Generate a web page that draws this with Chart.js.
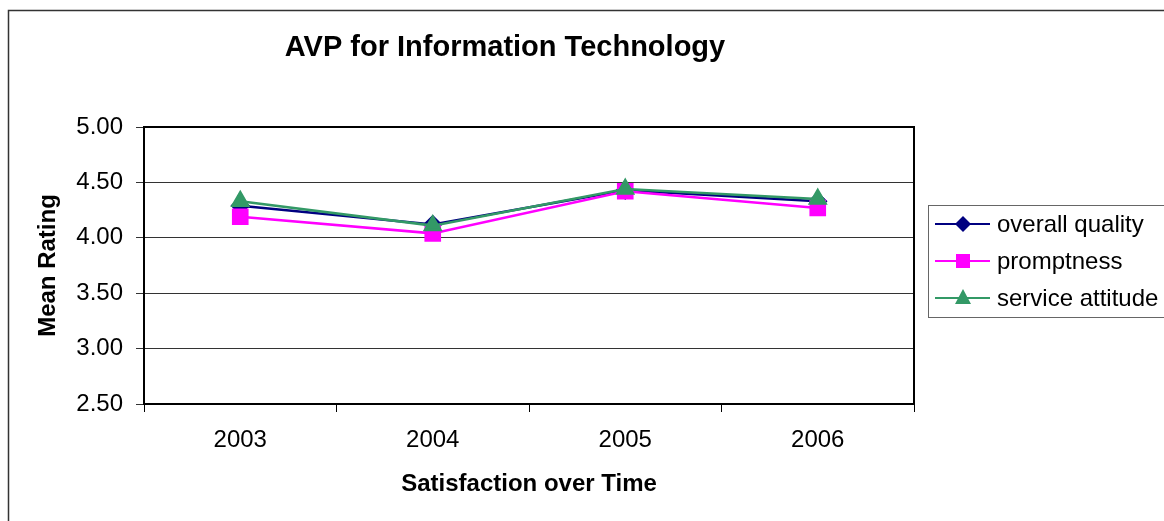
<!DOCTYPE html>
<html>
<head>
<meta charset="utf-8">
<script src="https://cdn.jsdelivr.net/npm/chart.js@4/dist/chart.umd.min.js"></script>
<style>
  html, body { margin: 0; padding: 0; background: #fff; }
  #wrap { width: 1164px; height: 521px; position: relative; }
</style>
</head>
<body>
<div id="wrap"><canvas id="chart" width="1164" height="521"></canvas></div>
<script>
const chartTitle = 'AVP for Information Technology';
const years = ['2003', '2004', '2005', '2006'];
const overallQuality = [4.29, 4.12, 4.43, 4.33];
const promptness = [4.19, 4.04, 4.42, 4.27];
const serviceAttitude = [4.33, 4.11, 4.44, 4.35];
const yTicks = [2.5, 3.0, 3.5, 4.0, 4.5, 5.0];

const FONT = 'Liberation Sans, Arial, sans-serif';

// outer frame, title and plot border
const framePlugin = {
    id: 'frame',
    beforeDraw(chart) {
        const c = chart.ctx;
        c.save();
        c.fillStyle = '#fff';
        c.fillRect(0, 0, chart.width, chart.height);
        c.strokeStyle = '#333';
        c.lineWidth = 1.5;
        c.strokeRect(8.5, 10.5, 1400, 700);
        c.fillStyle = '#000';
        c.font = 'bold 29px ' + FONT;
        c.textAlign = 'center';
        c.textBaseline = 'middle';
        c.fillText(chartTitle, 505, 48);
        c.restore();
    },
    afterDatasetsDraw(chart) {
        const a = chart.chartArea;
        const c = chart.ctx;
        c.save();
        c.strokeStyle = '#000';
        c.lineWidth = 2;
        c.strokeRect(a.left, a.top, a.right - a.left, a.bottom - a.top);
        c.restore();
    }
};

// excel style legend: line + marker, boxed
const legendPlugin = {
    id: 'boxLegend',
    afterDraw(chart) {
        const c = chart.ctx;
        const x0 = 928, y0 = 205, w = 260, h = 112;
        c.save();
        c.strokeStyle = '#666';
        c.lineWidth = 1;
        c.strokeRect(x0 + 0.5, y0 + 0.5, w, h);
        c.font = '24px ' + FONT;
        c.textBaseline = 'middle';
        chart.data.datasets.forEach((ds, i) => {
            const y = y0 + 19 + i * 37;
            c.strokeStyle = ds.borderColor;
            c.lineWidth = 2;
            c.beginPath();
            c.moveTo(x0 + 7, y);
            c.lineTo(x0 + 62, y);
            c.stroke();
            c.fillStyle = ds.backgroundColor;
            const cx = x0 + 35;
            c.beginPath();
            if (ds.pointStyle === 'rectRot') {
                c.moveTo(cx, y - 8); c.lineTo(cx + 8, y); c.lineTo(cx, y + 8); c.lineTo(cx - 8, y);
            } else if (ds.pointStyle === 'rect') {
                c.rect(cx - 7, y - 7, 14, 14);
            } else {
                c.moveTo(cx, y - 9); c.lineTo(cx + 8, y + 6); c.lineTo(cx - 8, y + 6);
            }
            c.closePath();
            c.fill();
            c.fillStyle = '#000';
            c.fillText(ds.label, x0 + 69, y + 1);
        });
        c.restore();
    }
};

new Chart(document.getElementById('chart'), {
    type: 'line',
    data: {
        labels: years,
        datasets: [{
            label: 'overall quality',
            data: overallQuality,
            borderColor: '#000080',
            backgroundColor: '#000080',
            pointStyle: 'rectRot',
            pointRadius: 8,
            borderWidth: 2.5,
            order: 2
        }, {
            label: 'promptness',
            data: promptness,
            borderColor: '#ff00ff',
            backgroundColor: '#ff00ff',
            pointStyle: 'rect',
            pointRadius: 10,
            borderWidth: 2.5,
            order: 1
        }, {
            label: 'service attitude',
            data: serviceAttitude,
            borderColor: '#339966',
            backgroundColor: '#339966',
            pointStyle: 'triangle',
            pointRadius: 9,
            borderWidth: 2.5,
            order: 0
        }]
    },
    options: {
        responsive: false,
        animation: false,
        layout: { padding: { left: 0, right: 250, top: 127, bottom: 0 } },
        plugins: {
            legend: { display: false },
            tooltip: { enabled: false },
            title: { display: false }
        },
        scales: {
            x: {
                offset: true,
                grid: { offset: true, drawOnChartArea: false, tickLength: 8, color: '#000' },
                border: { display: false },
                ticks: { color: '#000', font: { family: FONT, size: 24 }, padding: 14 },
                title: {
                    display: true,
                    text: 'Satisfaction over Time',
                    color: '#000',
                    font: { family: FONT, size: 24, weight: 'bold' },
                    padding: { top: 0, bottom: 22 }
                },
                afterFit(scale) { scale.height = 117; }
            },
            y: {
                min: 2.5,
                max: 5.0,
                afterBuildTicks(scale) { scale.ticks = yTicks.map(v => ({ value: v })); },
                grid: { color: '#333', lineWidth: 1, tickLength: 8 },
                border: { display: false },
                ticks: {
                    color: '#000',
                    font: { family: FONT, size: 24 },
                    padding: 13,
                    callback: v => v.toFixed(2)
                },
                title: {
                    display: true,
                    text: 'Mean Rating',
                    color: '#000',
                    font: { family: FONT, size: 24, weight: 'bold' },
                    padding: { top: 34, bottom: 0 }
                },
                afterFit(scale) { scale.width = 144; }
            }
        }
    },
    plugins: [framePlugin, legendPlugin]
});
</script>
</body>
</html>
